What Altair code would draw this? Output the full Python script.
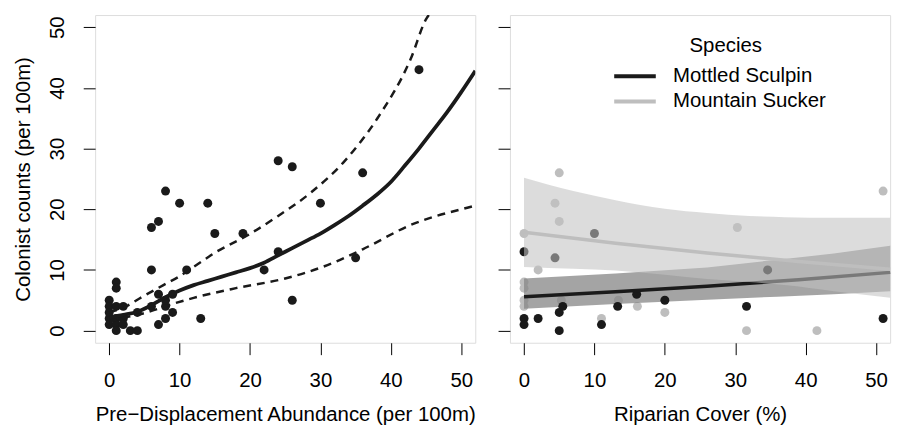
import altair as alt
import pandas as pd

FONT = "Liberation Sans"
FS = 20.6

# ---------------- Left panel data ----------------
pre_x = [0, 0, 1, 2, 0, 0, 1, 1, 2, 2, 1, 3, 4, 1, 1, 4, 6, 7, 7, 8,
         8, 8, 9, 9, 13, 6, 11, 6, 7, 8, 10, 14, 15, 19, 22, 24, 24, 26, 26, 30,
         35, 36, 44, 0]
pre_y = [5, 4, 4, 4, 2, 1, 2, 1, 2, 1, 0, 0, 0, 8, 7, 3, 4, 1, 6, 2,
         4, 5, 3, 6, 2, 10, 10, 17, 18, 23, 21, 21, 16, 16, 10, 13, 28, 27, 5, 21,
         12, 26, 43, 3]

fit_x = [0, 2, 4, 6, 8, 10, 12, 14, 16, 18, 20, 22, 24, 26, 28, 30, 32, 34, 36,
         38, 40, 42, 44, 46, 48, 50, 52]
fit_y = [2.2, 2.6, 3.1, 4.2, 5.5, 6.6, 7.5, 8.2, 8.9, 9.6, 10.3, 11.2, 12.4, 13.6,
         14.8, 16.0, 17.4, 18.9, 20.6, 22.4, 24.5, 27.2, 30.0, 33.0, 36.0, 39.3, 42.8]

up_x = [0, 2.4, 4.3, 7.7, 9.9, 12.5, 15.1, 19.8, 24, 28.7, 33.4, 38.1, 42.8, 45.1, 45.4]
up_y = [3.0, 4.0, 5.3, 7.5, 8.9, 10.9, 12.9, 15.8, 18.9, 22.8, 27.9, 35.0, 44.7, 51.5, 52.0]

lo_x = [0, 2, 5, 9, 12, 18, 25, 31, 36, 43, 51, 52]
lo_y = [1.5, 2.1, 2.9, 4.4, 5.4, 7.0, 8.6, 10.8, 13.4, 17.5, 20.3, 20.6]

# ---------------- Right panel data ----------------
sculpin_x = [0, 0, 0, 2, 5, 5.5, 5, 4.4, 10, 11, 13.3, 16, 20, 31.6, 34.6, 51]
sculpin_y = [13, 2, 1, 2, 3, 4, 0, 12, 16, 1, 4, 6, 5, 4, 10, 2]

sucker_x = [0, 0, 0, 0, 0, 2, 4.4, 5, 5, 5.3, 11, 13.4, 16.1, 20, 30.3, 31.6, 41.6, 51]
sucker_y = [16, 8, 7, 5, 4, 10, 21, 18, 26, 5, 2, 5, 4, 3, 17, 0, 0, 23]

sc_fit_x = [0, 13, 26, 39, 52]
sc_fit_y = [5.6, 6.4, 7.3, 8.4, 9.6]
sc_ci_x = [0, 13, 26, 36, 44, 52]
sc_ci_up = [8.6, 9.4, 10.4, 11.7, 12.7, 14.0]
sc_ci_lo = [3.6, 4.4, 5.1, 5.6, 6.0, 6.5]

su_fit_x = [0, 13, 26, 39, 52]
su_fit_y = [16.2, 14.4, 12.8, 11.4, 10.1]
su_ci_x = [0, 7, 13, 20, 26, 32, 37, 44, 52]
su_ci_up = [25.2, 23.0, 21.5, 20.1, 19.4, 18.9, 18.7, 18.6, 18.6]
su_ci_lo = [10.5, 10.2, 9.9, 9.2, 8.5, 8.0, 7.5, 6.5, 5.4]

species = ["Mottled Sculpin", "Mountain Sucker"]
species_colors = ["#1a1a1a", "#bebebe"]
ticks = [0, 10, 20, 30, 40, 50]

W, H = 384, 331
PT = 82
xs = alt.Scale(domain=[-2, 52], nice=False, zero=False)
ys = alt.Scale(domain=[-2, 52], nice=False, zero=False)

axis_common = dict(grid=False, domain=False, tickSize=12, tickColor="black",
                   tickWidth=1, labelColor="black", titleColor="black",
                   labelFontSize=FS, titleFontSize=FS, titleFontWeight="normal",
                   labelFont=FONT, titleFont=FONT, values=ticks)

y_left = alt.Axis(title="Colonist counts (per 100m)", labelAngle=270,
                  labelAlign="center", labelBaseline="bottom", labelPadding=16,
                  titlePadding=14, **axis_common)
y_right = alt.Axis(title=None, labels=False, **axis_common)


def xaxis(title):
    return alt.Axis(title=title, labelPadding=16, titlePadding=14, **axis_common)


# ---------------- Left panel ----------------
df_lp = pd.DataFrame({"x": pre_x, "y": pre_y})
df_fit = pd.DataFrame({"x": fit_x, "y": fit_y})
df_up = pd.DataFrame({"x": up_x, "y": up_y})
df_lo = pd.DataFrame({"x": lo_x, "y": lo_y})

xl = alt.X("x:Q", scale=xs, axis=xaxis("Pre−Displacement Abundance (per 100m)"))
yl = alt.Y("y:Q", scale=ys, axis=y_left)

left_pts = alt.Chart(df_lp).mark_circle(size=PT, color="#1a1a1a", opacity=1).encode(x=xl, y=yl)
left_fit = alt.Chart(df_fit).mark_line(color="#1a1a1a", strokeWidth=3.8, clip=True,
                                       interpolate="monotone").encode(x="x:Q", y="y:Q")
left_up = alt.Chart(df_up).mark_line(color="#1a1a1a", strokeWidth=2.5, strokeDash=[8, 6],
                                     clip=True, interpolate="monotone").encode(x="x:Q", y="y:Q")
left_lo = alt.Chart(df_lo).mark_line(color="#1a1a1a", strokeWidth=2.5, strokeDash=[8, 6],
                                     clip=True, interpolate="monotone").encode(x="x:Q", y="y:Q")

left = alt.layer(left_pts, left_fit, left_up, left_lo).properties(width=W, height=H)

# ---------------- Right panel ----------------
df_sc = pd.DataFrame({"x": sculpin_x, "y": sculpin_y})
df_su = pd.DataFrame({"x": sucker_x, "y": sucker_y})
df_scfit = pd.DataFrame({"x": sc_fit_x, "y": sc_fit_y, "species": species[0]})
df_sufit = pd.DataFrame({"x": su_fit_x, "y": su_fit_y, "species": species[1]})
df_scci = pd.DataFrame({"x": sc_ci_x, "lo": sc_ci_lo, "hi": sc_ci_up})
df_suci = pd.DataFrame({"x": su_ci_x, "lo": su_ci_lo, "hi": su_ci_up})

xr = alt.X("x:Q", scale=xs, axis=xaxis("Riparian Cover (%)"))
yr = alt.Y("y:Q", scale=ys, axis=y_right)

color = alt.Color(
    "species:N",
    scale=alt.Scale(domain=species, range=species_colors),
    legend=alt.Legend(
        title="Species", orient="none", legendX=535, legendY=21,
        symbolType="M-4.2,0H4.2", symbolSize=100, symbolStrokeWidth=4,
        labelOffset=28, labelFontSize=FS, labelFont=FONT, labelColor="black",
        titleFontSize=FS, titleFont=FONT, titleFontWeight="normal", titleColor="black",
        titleAnchor="middle", titlePadding=10, rowPadding=4.4, labelLimit=400,
    ),
)

r_su_pts = alt.Chart(df_su).mark_circle(size=PT, color="#bebebe", opacity=1).encode(x=xr, y=yr)
r_sc_band = alt.Chart(df_scci).mark_area(color="#858585", opacity=0.75).encode(
    x="x:Q", y="lo:Q", y2="hi:Q")
r_sc_pts = alt.Chart(df_sc).mark_circle(size=PT, color="#1a1a1a", opacity=1).encode(x="x:Q", y="y:Q")
r_sc_line = alt.Chart(df_scfit).mark_line(strokeWidth=3.5).encode(x="x:Q", y="y:Q", color=color)
r_su_band = alt.Chart(df_suci).mark_area(color="#c1c1c1", opacity=0.57,
                                         interpolate="monotone").encode(
    x="x:Q", y="lo:Q", y2="hi:Q")
r_su_line = alt.Chart(df_sufit).mark_line(strokeWidth=3.5).encode(x="x:Q", y="y:Q", color=color)

right = alt.layer(r_su_pts, r_sc_band, r_sc_pts, r_sc_line, r_su_band, r_su_line).properties(
    width=W, height=H)

chart = alt.hconcat(left, right, spacing=20).properties(
    padding={"left": 5, "top": 4, "right": 5, "bottom": 5}
).configure_view(stroke="black", strokeWidth=1).configure(background="white")

chart.save("out.html", embed_options={"renderer": "svg", "actions": False})
